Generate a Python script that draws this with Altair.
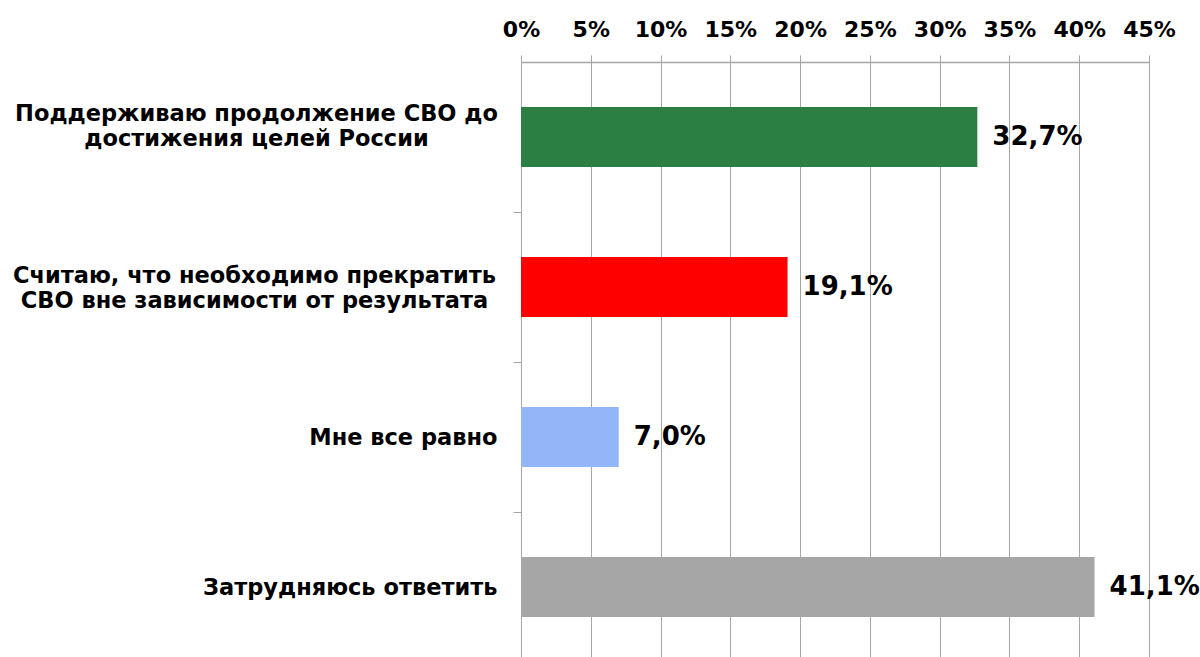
import altair as alt
import pandas as pd

categories = [
    "Поддерживаю продолжение СВО до|достижения целей России",
    "Считаю, что необходимо прекратить|СВО вне зависимости от результата",
    "Мне все равно",
    "Затрудняюсь ответить",
]
values = [32.7, 19.1, 7.0, 41.1]
value_labels = ["32,7%", "19,1%", "7,0%", "41,1%"]
colors = ["#2b7f42", "#ff0000", "#92b6f8", "#a6a6a6"]
tick_values = [0, 5, 10, 15, 20, 25, 30, 35, 40, 45]

df = pd.DataFrame({"cat": categories, "val": values, "lab": value_labels})

FONT = "DejaVu Sans"
GRID = "#a6a6a6"

x_enc = alt.X(
    "val:Q",
    scale=alt.Scale(domain=[0, 45], nice=False, zero=True),
    axis=alt.Axis(
        orient="top",
        values=tick_values,
        labelExpr="datum.value + '%'",
        labelOverlap=False,
        labelFlush=False,
        title=None,
        grid=True,
        gridColor=GRID,
        gridWidth=1,
        domainColor=GRID,
        domainWidth=1.5,
        tickColor=GRID,
        tickSize=7,
        labelFont=FONT,
        labelFontSize=22,
        labelFontWeight="bold",
        labelColor="black",
        labelPadding=14,
    ),
)

y_enc = alt.Y(
    "cat:N",
    sort=categories,
    scale=alt.Scale(range=[0, 600], paddingInner=0.6, paddingOuter=0.3),
    axis=alt.Axis(
        title=None,
        domain=False,
        grid=False,
        ticks=True,
        tickColor=GRID,
        tickSize=8,
        bandPosition=1,
        tickOffset=45,
        labelOffset={
            "condition": [
                {"test": "indexof(datum.label, 'Поддерживаю') == 0", "value": -69},
                {"test": "indexof(datum.label, 'Считаю') == 0", "value": -57},
            ],
            "value": -45,
        },
        labelAlign={
            "condition": {"test": "indexof(datum.label, '|') >= 0", "value": "center"},
            "value": "right",
        },
        labelPadding={
            "condition": [
                {"test": "indexof(datum.label, 'Поддерживаю') == 0", "value": 257},
                {"test": "indexof(datum.label, 'Считаю') == 0", "value": 259},
            ],
            "value": 16,
        },
        labelExpr="split(datum.label, '|')",
        labelFont=FONT,
        labelFontSize=22.5,
        labelLineHeight=25,
        labelFontWeight="bold",
        labelColor="black",
        labelBaseline="middle",
        labelLimit=0,
    ),
)

bars = alt.Chart(df).mark_bar().encode(
    x=x_enc,
    y=y_enc,
    color=alt.Color("cat:N", scale=alt.Scale(domain=categories, range=colors), legend=None),
)

text = alt.Chart(df).mark_text(
    align="left", baseline="middle", dx=15, font=FONT, fontSize=26, fontWeight="bold", color="black"
).encode(
    x=alt.X("val:Q"),
    y=alt.Y("cat:N", sort=categories),
    text="lab:N",
)

chart = (
    alt.layer(bars, text)
    .properties(
        width=628,
        height=595,
        autosize=alt.AutoSizeParams(type="none"),
        padding={"left": 521, "top": 62, "right": 51, "bottom": 0},
        background="white",
    )
    .configure_view(stroke=None)
)

chart.save("out.html", embed_options={"renderer": "svg", "actions": False})
